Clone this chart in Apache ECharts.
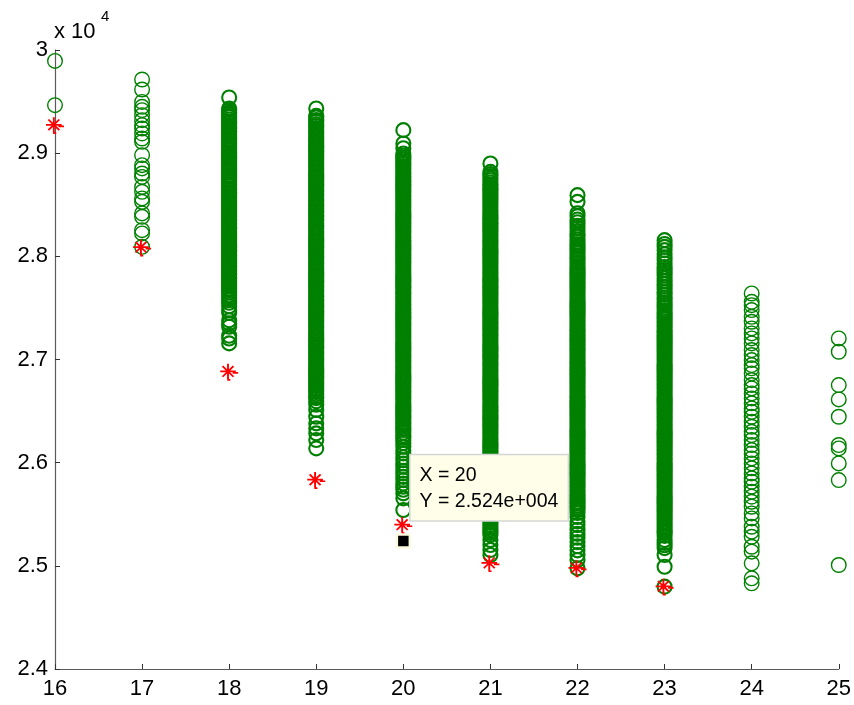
<!DOCTYPE html>
<html>
<head>
<meta charset="utf-8">
<title>Scatter by group</title>
<script src="https://cdn.jsdelivr.net/npm/echarts@6/dist/echarts.min.js"></script>
<style>
  html, body { margin: 0; padding: 0; background: #ffffff; }
  #chart { width: 854px; height: 705px; }
</style>
</head>
<body>
<div id="chart"></div>
<script>
// Group positions on the x axis
const groups = [16, 17, 18, 19, 20, 21, 22, 23, 24, 25];

// Sample values per group (green rings)
const vals16 = [29894, 29465];
const vals17 = [29714, 29617, 29497, 29449, 29417, 29368, 29320, 29271, 29239, 29191, 29142, 29110,
  28981, 28884, 28852, 28803, 28770, 28673, 28625, 28561, 28528, 28416, 28383, 28254, 28222, 28092];
const vals18 = [29540, 29433, 29418, 29396, 29381, 29362, 29349, 29327, 29306, 29293, 29270, 29252,
  29238, 29214, 29199, 29181, 29163, 29140, 29127, 29104, 29090, 29066, 29051, 29031, 29010, 28996,
  28975, 28955, 28941, 28918, 28902, 28886, 28861, 28846, 28828, 28810, 28788, 28774, 28752, 28737,
  28716, 28698, 28683, 28659, 28644, 28622, 28607, 28584, 28570, 28546, 28532, 28509, 28496, 28471,
  28456, 28434, 28420, 28397, 28383, 28358, 28344, 28322, 28308, 28283, 28269, 28246, 28232, 28208,
  28195, 28171, 28157, 28135, 28118, 28098, 28083, 28059, 28046, 28022, 28009, 27984, 27970, 27947,
  27934, 27909, 27896, 27872, 27859, 27835, 27821, 27797, 27784, 27760, 27747, 27722, 27709, 27686,
  27671, 27648, 27622, 27601, 27576, 27550, 27516, 27479, 27452, 27380, 27350, 27317, 27230, 27204,
  27156];
const vals19 = [29433, 29362, 29345, 29322, 29304, 29281, 29263, 29244, 29221, 29203, 29185, 29160,
  29142, 29125, 29101, 29084, 29062, 29043, 29021, 29004, 28983, 28961, 28944, 28922, 28903, 28884,
  28861, 28843, 28822, 28804, 28781, 28763, 28742, 28722, 28701, 28684, 28662, 28641, 28623, 28602,
  28583, 28561, 28544, 28521, 28503, 28482, 28463, 28441, 28424, 28401, 28383, 28362, 28344, 28321,
  28302, 28284, 28262, 28241, 28224, 28202, 28183, 28161, 28143, 28122, 28101, 28083, 28062, 28041,
  28023, 28002, 27984, 27962, 27941, 27923, 27901, 27882, 27863, 27841, 27822, 27803, 27781, 27762,
  27744, 27721, 27703, 27681, 27663, 27642, 27621, 27604, 27582, 27561, 27543, 27522, 27503, 27481,
  27462, 27443, 27421, 27402, 27382, 27363, 27341, 27322, 27303, 27281, 27262, 27244, 27221, 27203,
  27182, 27163, 27141, 27122, 27104, 27081, 27062, 27043, 27021, 27002, 26983, 26961, 26943, 26922,
  26901, 26882, 26863, 26841, 26823, 26802, 26781, 26763, 26742, 26721, 26703, 26684, 26662, 26641,
  26626, 26595, 26561, 26510, 26445, 26381, 26332, 26284, 26219, 26139];
const vals20 = [29223, 29094, 29048, 28997, 28978, 28955, 28937, 28914, 28896, 28875, 28854, 28836,
  28813, 28795, 28774, 28753, 28735, 28714, 28693, 28675, 28654, 28634, 28615, 28593, 28574, 28553,
  28535, 28514, 28493, 28475, 28454, 28434, 28415, 28393, 28374, 28355, 28334, 28313, 28295, 28274,
  28253, 28235, 28214, 28193, 28175, 28154, 28133, 28115, 28094, 28073, 28055, 28034, 28013, 27994,
  27974, 27953, 27935, 27914, 27893, 27875, 27854, 27833, 27815, 27794, 27774, 27755, 27734, 27713,
  27695, 27674, 27653, 27635, 27614, 27593, 27575, 27554, 27533, 27515, 27494, 27474, 27455, 27434,
  27413, 27395, 27374, 27353, 27335, 27314, 27293, 27275, 27254, 27233, 27215, 27194, 27174, 27155,
  27134, 27113, 27095, 27074, 27053, 27035, 27014, 26993, 26975, 26954, 26933, 26915, 26894, 26874,
  26855, 26834, 26813, 26795, 26774, 26753, 26735, 26714, 26693, 26675, 26654, 26633, 26615, 26594,
  26574, 26555, 26534, 26513, 26495, 26474, 26453, 26435, 26414, 26393, 26375, 26354, 26333, 26316,
  26290, 26262, 26241, 26219, 26190, 26154, 26118, 26090, 26052, 26025, 25992, 25960, 25921, 25896,
  25862, 25831, 25798, 25767, 25738, 25702, 25654, 25541];
const vals21 = [28900, 28819, 28797, 28779, 28756, 28738, 28716, 28697, 28675, 28657, 28636, 28617,
  28595, 28576, 28556, 28535, 28516, 28494, 28475, 28455, 28434, 28415, 28396, 28374, 28355, 28334,
  28315, 28296, 28274, 28255, 28236, 28214, 28195, 28174, 28155, 28136, 28114, 28095, 28076, 28054,
  28035, 28016, 27995, 27974, 27955, 27936, 27914, 27895, 27876, 27854, 27835, 27816, 27795, 27774,
  27755, 27736, 27714, 27695, 27676, 27654, 27635, 27616, 27595, 27574, 27555, 27536, 27514, 27495,
  27476, 27454, 27435, 27416, 27395, 27374, 27355, 27336, 27314, 27295, 27276, 27254, 27235, 27216,
  27195, 27174, 27155, 27136, 27114, 27095, 27076, 27054, 27035, 27016, 26995, 26974, 26955, 26936,
  26914, 26895, 26876, 26854, 26835, 26816, 26795, 26774, 26755, 26736, 26714, 26695, 26676, 26654,
  26635, 26616, 26595, 26574, 26555, 26536, 26514, 26495, 26476, 26454, 26435, 26416, 26395, 26374,
  26355, 26336, 26314, 26295, 26276, 26254, 26235, 26216, 26195, 26174, 26155, 26136, 26114, 26095,
  26076, 26054, 26035, 26016, 25995, 25974, 25955, 25936, 25914, 25895, 25876, 25854, 25835, 25816,
  25795, 25774, 25755, 25736, 25714, 25695, 25676, 25654, 25635, 25616, 25595, 25574, 25555, 25536,
  25514, 25495, 25476, 25454, 25435, 25416, 25395, 25374, 25355, 25336, 25318, 25298, 25250, 25202,
  25153, 25105];
const vals22 = [28593, 28528, 28418, 28390, 28357, 28331, 28296, 28270, 28241, 28213, 28190, 28164,
  28139, 28117, 28094, 28071, 28052, 28030, 28008, 27989, 27967, 27944, 27925, 27903, 27884, 27862,
  27842, 27821, 27803, 27781, 27762, 27741, 27722, 27701, 27683, 27661, 27642, 27621, 27602, 27581,
  27563, 27541, 27522, 27501, 27482, 27461, 27443, 27421, 27402, 27381, 27362, 27341, 27323, 27301,
  27282, 27261, 27242, 27221, 27203, 27181, 27162, 27141, 27122, 27101, 27083, 27061, 27042, 27021,
  27002, 26981, 26963, 26941, 26922, 26901, 26882, 26861, 26843, 26821, 26802, 26781, 26762, 26741,
  26723, 26701, 26682, 26661, 26642, 26621, 26603, 26581, 26562, 26541, 26522, 26501, 26483, 26461,
  26442, 26421, 26402, 26381, 26363, 26341, 26322, 26301, 26282, 26261, 26243, 26221, 26202, 26181,
  26162, 26141, 26123, 26101, 26082, 26061, 26042, 26021, 26003, 25981, 25962, 25941, 25922, 25901,
  25883, 25861, 25842, 25821, 25802, 25781, 25763, 25741, 25722, 25701, 25682, 25661, 25643, 25621,
  25602, 25581, 25562, 25541, 25512, 25473, 25430, 25395, 25350, 25310, 25272, 25230, 25190, 25150,
  25105, 25056, 24976];
const vals23 = [28157, 28120, 28092, 28060, 28021, 27990, 27962, 27930, 27897, 27870, 27841, 27813,
  27786, 27760, 27733, 27705, 27681, 27652, 27628, 27601, 27577, 27553, 27529, 27502, 27478, 27455,
  27433, 27412, 27392, 27371, 27352, 27331, 27312, 27291, 27272, 27251, 27232, 27211, 27192, 27171,
  27152, 27131, 27112, 27091, 27072, 27051, 27032, 27011, 26992, 26971, 26952, 26931, 26912, 26891,
  26872, 26851, 26832, 26811, 26792, 26771, 26752, 26731, 26712, 26691, 26672, 26651, 26632, 26611,
  26592, 26571, 26552, 26531, 26512, 26491, 26472, 26451, 26432, 26411, 26392, 26371, 26352, 26331,
  26312, 26291, 26272, 26251, 26232, 26211, 26192, 26171, 26152, 26131, 26112, 26091, 26072, 26051,
  26032, 26011, 25992, 25971, 25952, 25931, 25912, 25891, 25872, 25851, 25832, 25811, 25792, 25771,
  25752, 25731, 25712, 25691, 25672, 25651, 25632, 25611, 25592, 25571, 25552, 25531, 25512, 25491,
  25472, 25451, 25432, 25411, 25392, 25371, 25352, 25334, 25318, 25290, 25250, 25221, 25200, 25172,
  25105, 24991, 24798];
const vals24 = [27640, 27559, 27527, 27479, 27414, 27366, 27301, 27253, 27204, 27156, 27091, 27043,
  26994, 26946, 26914, 26865, 26800, 26752, 26720, 26671, 26623, 26575, 26526, 26493, 26445, 26396,
  26348, 26299, 26267, 26219, 26171, 26122, 26090, 26041, 25993, 25945, 25896, 25848, 25815, 25767,
  25718, 25670, 25621, 25573, 25508, 25460, 25379, 25331, 25282, 25185, 25137, 25024, 24879, 24830];
const vals25 = [27204, 27075, 26752, 26613, 26445, 26171, 26138, 25993, 25831, 25008];

// Per-group reference values (red asterisks), groups 16..23
const refGroups = [16, 17, 18, 19, 20, 21, 22, 23];
const refValues = [29271, 28085, 26881, 25831, 25395, 25025, 24976, 24798];

// Picked point shown with a data tip
const pickX = 20;
const pickY = 25240;

// Axis ticks
const xTicks = [16, 17, 18, 19, 20, 21, 22, 23, 24, 25];
const yTickLabels = ['2.4', '2.5', '2.6', '2.7', '2.8', '2.9', '3'];

// Heavily sampled groups are drawn with a slightly heavier ring so the stack reads as a band
const columns = [vals16, vals17, vals18, vals19, vals20, vals21, vals22, vals23, vals24, vals25];
const denseGroups = [18, 19, 20, 21, 22, 23];
const sparseData = [];
const denseData = [];
columns.forEach((col, i) => {
  const target = denseGroups.includes(groups[i]) ? denseData : sparseData;
  col.forEach(v => target.push([groups[i], v]));
});
const refData = refGroups.map((g, i) => [g, refValues[i]]);

// MATLAB-style exponent text, e.g. 2.524e+004
function matlabExp(v) {
  const s = v.toExponential(3);
  const [m, e] = s.split('e');
  const sign = e[0] === '-' ? '-' : '+';
  const digits = e.replace(/[+-]/, '').padStart(3, '0');
  return m + 'e' + sign + digits;
}

const FONT = '"Liberation Sans", Arial, Helvetica, sans-serif';
const AXIS_COLOR = '#5a5a5a';
const GREEN = '#008000';

const ringSeries = (name, data, size, width) => ({
  name,
  type: 'scatter',
  data,
  symbol: 'circle',
  symbolSize: size,
  clip: false,
  large: false,
  progressive: 0,
  itemStyle: { color: 'rgba(0,0,0,0)', borderColor: GREEN, borderWidth: width, opacity: 1 },
  emphasis: { disabled: true },
  z: 2
});

const chart = echarts.init(document.getElementById('chart'), null, { renderer: 'canvas' });

chart.setOption({
  animation: false,
  backgroundColor: '#ffffff',
  grid: { left: 55, right: 12, top: 50, bottom: 36, containLabel: false },
  xAxis: {
    type: 'value',
    min: 16, max: 25, interval: 1,
    axisLine: { show: true, onZero: false, lineStyle: { color: AXIS_COLOR, width: 1.2 } },
    axisTick: { show: true, inside: true, length: 5, lineStyle: { color: '#333', width: 1 } },
    splitLine: { show: false },
    axisLabel: {
      color: '#000', fontFamily: FONT, fontSize: 22, margin: 9,
      formatter: v => String(xTicks.find(t => t === v) ?? v)
    }
  },
  yAxis: {
    type: 'value',
    min: 24000, max: 30000, interval: 1000,
    axisLine: { show: true, onZero: false, lineStyle: { color: AXIS_COLOR, width: 1.2 } },
    axisTick: { show: true, inside: true, length: 5, lineStyle: { color: '#333', width: 1 } },
    splitLine: { show: false },
    axisLabel: {
      color: '#000', fontFamily: FONT, fontSize: 22, margin: 7,
      formatter: v => yTickLabels[Math.round((v - 24000) / 1000)]
    }
  },
  series: [
    ringSeries('samples', sparseData, 14.6, 1.4),
    ringSeries('samples dense', denseData, 14, 2.1),
    {
      name: 'reference',
      type: 'scatter',
      data: refData,
      symbol: 'path://M0,-10L0,10M-10,0L10,0M-7,-7L7,7M-7,7L7,-7M6,2L13,2M-1,11L3,11',
      symbolSize: [18, 16],
      clip: false,
      itemStyle: { color: 'rgba(0,0,0,0)', borderColor: '#ff0000', borderWidth: 1.8, opacity: 1 },
      emphasis: { disabled: true },
      z: 3
    },
    {
      name: 'pick',
      type: 'scatter',
      zlevel: 1,
      data: [[pickX, pickY]],
      symbol: 'rect',
      symbolSize: 13,
      clip: false,
      itemStyle: { color: '#000000', borderColor: '#fbfbe0', borderWidth: 2.5, opacity: 1 },
      emphasis: { disabled: true },
      label: {
        show: true,
        position: [15, -78],
        formatter: p => 'X = ' + p.value[0] + '\nY = ' + matlabExp(p.value[1]),
        color: '#000',
        fontFamily: FONT,
        fontSize: 19.5,
        lineHeight: 26,
        backgroundColor: '#fefee9',
        borderColor: '#d6d6d6',
        borderWidth: 1.5,
        padding: [7, 6, 6, 9],
        width: 142,
        align: 'left'
      },
      z: 5
    }
  ],
  graphic: [
    {
      type: 'text', left: 54, top: 21,
      style: { text: 'x 10', fontFamily: FONT, fontSize: 22, fill: '#000' }
    },
    {
      type: 'text', left: 101, top: 9,
      style: { text: '4', fontFamily: FONT, fontSize: 15, fill: '#000' }
    }
  ]
});
</script>
</body>
</html>
